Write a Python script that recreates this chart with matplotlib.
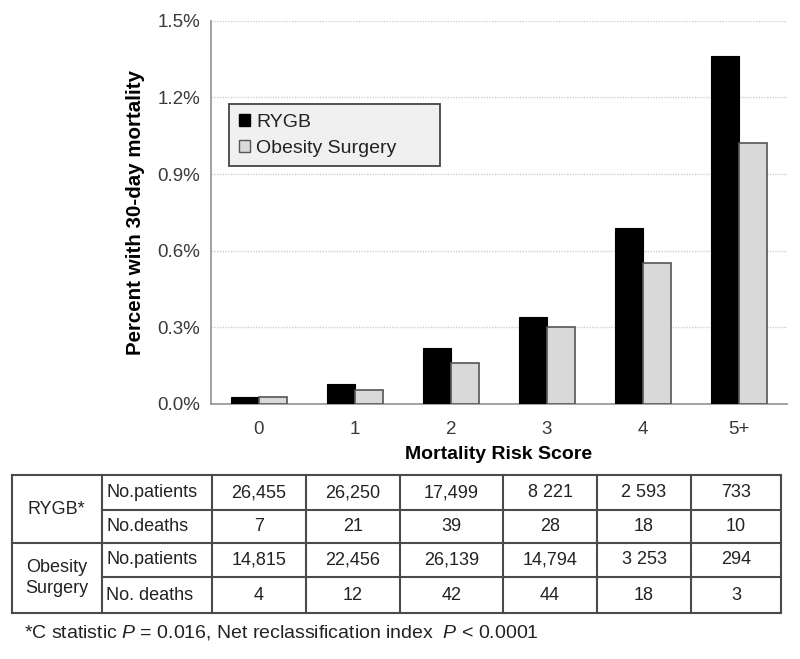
import numpy as np
import matplotlib
matplotlib.use('Agg')
import matplotlib.pyplot as plt
from matplotlib.ticker import FuncFormatter
from matplotlib.patches import Patch

plt.rcParams['font.family'] = ['Liberation Sans', 'DejaVu Sans']
plt.rcParams['mathtext.fontset'] = 'custom'
plt.rcParams['mathtext.it'] = 'Liberation Sans:italic'
plt.rcParams['mathtext.rm'] = 'Liberation Sans'

# data
scores = ['0', '1', '2', '3', '4', '5+']
rygb_pct = [0.027, 0.08, 0.22, 0.34, 0.69, 1.36]
obesity_pct = [0.027, 0.053, 0.16, 0.30, 0.55, 1.02]

rygb_patients = ['26,455', '26,250', '17,499', '8 221', '2 593', '733']
rygb_deaths = ['7', '21', '39', '28', '18', '10']
obesity_patients = ['14,815', '22,456', '26,139', '14,794', '3 253', '294']
obesity_deaths = ['4', '12', '42', '44', '18', '3']

W, H = 800, 659
fig = plt.figure(figsize=(W / 100, H / 100), dpi=100)

# bar chart
ax = fig.add_axes([211 / W, 1 - 404 / H, (787 - 211) / W, (404 - 20.7) / H])
x = np.arange(len(scores))
bw = 0.29
ax.bar(x - bw / 2, rygb_pct, bw, color='black', edgecolor='black', lw=0.8,
       label='RYGB', zorder=3)
ax.bar(x + bw / 2, obesity_pct, bw, color='#d9d9d9', edgecolor='#555555', lw=1.2,
       label='Obesity Surgery', zorder=3)
ax.set_xlim(-0.5, 5.5)
ax.set_ylim(0, 1.5)
ax.set_yticks([0, 0.3, 0.6, 0.9, 1.2, 1.5])
ax.yaxis.set_major_formatter(FuncFormatter(lambda v, p: f'{v:.1f}%'))
ax.set_xticks(x)
ax.set_xticklabels(scores)
ax.tick_params(length=0, labelsize=13.5, labelcolor='#3a3a3a', pad=12)
ax.tick_params(axis='y', pad=8)
ax.grid(axis='y', color='#cfcfcf', ls=(0, (1, 1)), lw=1, zorder=0)
for s in ['top', 'right']:
    ax.spines[s].set_visible(False)
for s in ['left', 'bottom']:
    ax.spines[s].set_color('#9a9a9a')
    ax.spines[s].set_linewidth(1.3)
ax.set_ylabel('Percent with 30-day mortality', fontsize=14.8, fontweight='bold',
              labelpad=9)
ax.set_xlabel('Mortality Risk Score', fontsize=14, fontweight='bold', labelpad=6)

handles = [Patch(facecolor='black', edgecolor='black'),
           Patch(facecolor='#d9d9d9', edgecolor='#555555')]
leg = fig.legend(handles, ['RYGB', 'Obesity Surgery'], loc='upper left',
                 bbox_to_anchor=(229 / W, 1 - 104 / H - 0.01, 211 / W, 0.01),
                 bbox_transform=fig.transFigure, mode='expand',
                 fontsize=14, fancybox=False, handlelength=0.6, handleheight=0.6,
                 handletextpad=0.3, borderpad=0.5, labelspacing=0.45,
                 borderaxespad=0)
leg.get_frame().set_facecolor('#f0f0f0')
leg.get_frame().set_edgecolor('#444444')
leg.get_frame().set_linewidth(1.3)
leg.get_frame().set_alpha(1)
for t in leg.get_texts():
    t.set_color('#222222')

# table drawn in pixel coordinates
tab = fig.add_axes([0, 0, 1, 1])
tab.set_xlim(0, W)
tab.set_ylim(H, 0)
tab.axis('off')

cols = [11.7, 102, 211.7, 306, 400, 503, 597, 691, 781]
rows = [475, 510, 543, 577, 613]
lc = '#4a4a4a'
for xc in cols:
    tab.plot([xc, xc], [rows[0], rows[-1]], color=lc, lw=1.5)
for i, yr in enumerate(rows):
    x0 = cols[0] if i in (0, 2, 4) else cols[1]
    tab.plot([x0, cols[-1]], [yr, yr], color=lc, lw=1.5)

fs = 13
tab.text((cols[0] + cols[1]) / 2, (rows[0] + rows[2]) / 2, 'RYGB*', ha='center',
         va='center', fontsize=fs, color='#222222')
tab.text((cols[0] + cols[1]) / 2, (rows[2] + rows[4]) / 2, 'Obesity\nSurgery',
         ha='center', va='center', fontsize=fs, color='#222222', linespacing=1.3)

table_rows = [('No.patients', rygb_patients), ('No.deaths', rygb_deaths),
              ('No.patients', obesity_patients), ('No. deaths', obesity_deaths)]
for r, (lab, vals) in enumerate(table_rows):
    yc = (rows[r] + rows[r + 1]) / 2
    tab.text(cols[1] + 4, yc, lab, ha='left', va='center', fontsize=fs,
             color='#222222')
    for c, v in enumerate(vals):
        tab.text((cols[c + 2] + cols[c + 3]) / 2, yc, v, ha='center', va='center',
                 fontsize=fs, color='#222222')

tab.text(24, 632, r'*C statistic $P$ = 0.016, Net reclassification index  $P$ < 0.0001',
         ha='left', va='center', fontsize=14, color='#222222')

fig.savefig('out.png', dpi=100)
